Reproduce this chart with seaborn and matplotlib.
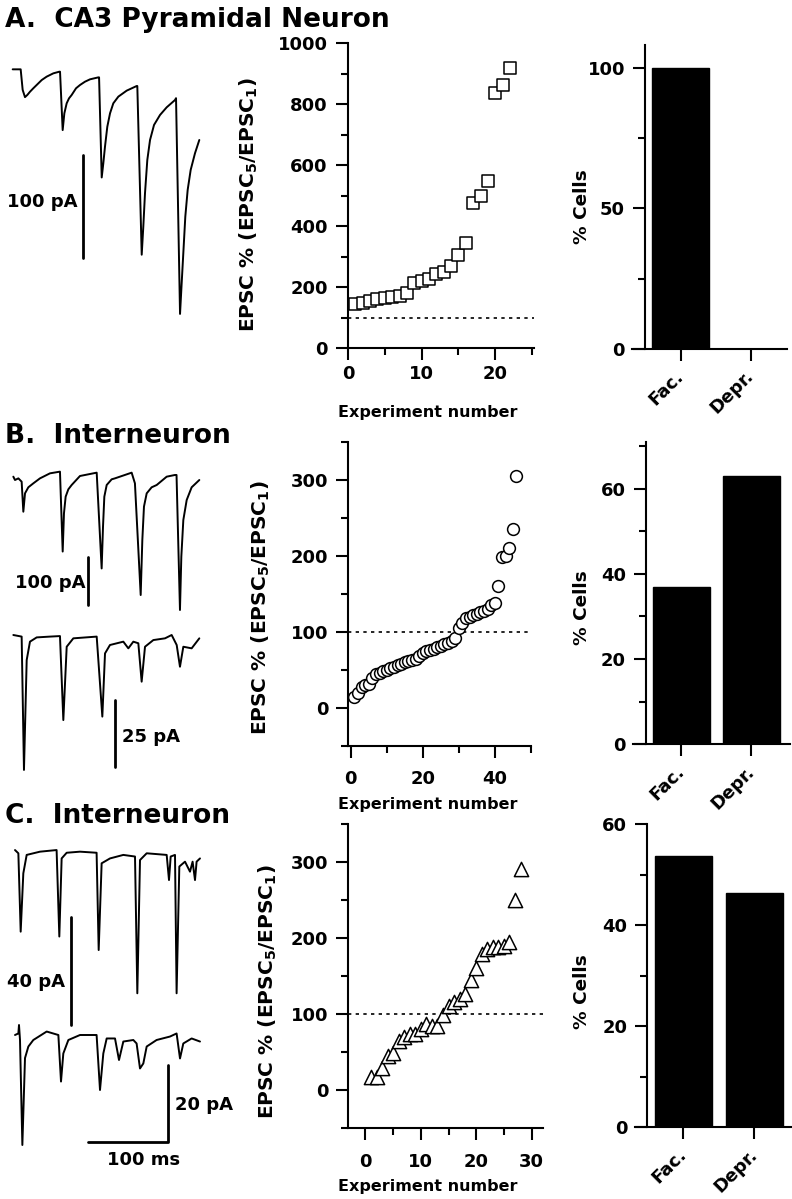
import matplotlib
matplotlib.use("Agg")
import matplotlib.pyplot as plt
from matplotlib.ticker import MultipleLocator
import seaborn as sns

# Figure size in pixels (dpi 100)
W, H = 792, 1199
MS_PER_PX = 1.25

# ---- scatter data (experiment number vs EPSC5/EPSC1 in %) ----
A_exp = list(range(1, 23))
A_epsc = [144, 146, 155, 161, 163, 168, 172, 181, 214, 220, 225,
          242, 248, 270, 305, 343, 476, 498, 548, 835, 862, 917]

B_exp = list(range(1, 47))
B_epsc = [15, 20, 28, 30, 32, 40, 44, 46, 48, 50, 52, 54, 56, 58, 60,
          62, 63, 65, 68, 72, 75, 76, 78, 80, 82, 84, 86, 88, 92,
          105, 112, 118, 120, 122, 124, 126, 128, 130, 135, 138,
          160, 198, 200, 210, 235, 305]

C_exp = list(range(1, 29))
C_epsc = [17, 17, 29, 44, 49, 64, 69, 73, 73, 80, 86, 84, 84, 98,
          110, 115, 119, 126, 144, 160, 179, 185, 188, 188, 189, 195, 250, 291]

# ---- bar data (% cells) ----
bar_cats = ["Fac.", "Depr."]
A_cells = [100, 0]
B_cells = [37.0, 63.0]
C_cells = [53.6, 46.4]

# ---- example traces (time in ms, current in pA) ----
A_t = [0, 10, 12.5, 15.4, 18.3, 21.7, 25.8, 30, 36.3, 42.5, 50.8, 58.3, 59.2, 62.5,
       64.6, 67.5, 70.4, 73.75, 79.2, 84.2, 90.4, 96.7, 107.1, 108, 111.3, 113.3,
       115.4, 118.3, 121.7, 125.8, 132.1, 142.5, 155, 155.8, 161.3, 163.3, 165.4,
       168.3, 171.7, 176.7, 184.2, 192.5, 202.9, 204.2, 209.2, 211.25, 213.3, 215.8,
       218.75, 222.5, 227.9, 233.3]
A_i = [0, 0, -20, -27, -24.9, -21.7, -18.4, -15.2, -10.4, -7.1, -3.9, -2.3, -2.3, -59,
       -42.7, -33, -28.2, -24.9, -18.4, -15.2, -12, -9.7, -7.8, -7.8, -105, -91.3,
       -75.1, -55.7, -42.7, -33, -26.5, -20.7, -16.2, -16.2, -180, -152.7, -120.4,
       -88, -68.6, -54, -44.3, -36.9, -29.8, -28, -237.5, -207.7, -178.6, -143,
       -117.1, -97.7, -81.5, -68.6]

B1_t = [0, 2.1, 6.3, 10.4, 12.5, 14.6, 18.75, 25, 33.3, 45.8, 58.3, 61.7, 63.3, 65.4,
        68.75, 72.9, 83.3, 104.2, 110.4, 112.1, 113.75, 116.7, 122.9, 127, 147.9, 152,
        159.2, 161.25, 163.3, 166.7, 172.9, 179.2, 191.7, 202, 204, 208.3, 210, 212.5,
        216.7, 222.9, 232.5]
B1_i = [0, -6.9, -3.5, -10.4, -72.5, -34.5, -22, -13.8, -3.5, 6.9, 10.4, -155, -75.9, -41.4,
        -26.2, -17.25, 1.4, 8.3, -190, -103.5, -41.4, -17.25, -5.5, -3.5, 8.3, -13.8,
        -245, -131, -62, -34.5, -22, -17.25, 0, 3.5, 3.5, -276, -165.6, -89.7,
        -48.3, -22, -6.9]

B2_t = [0, 10.4, 13.3, 16.7, 20.8, 29.2, 45.8, 58.3, 62.5, 66.7, 75, 104.2, 111.25,
        114.6, 120.8, 137.5, 143.75, 150, 156.25, 160.4, 164.6, 175, 189.6, 197.9,
        204.2, 208.3, 212.5, 222.9, 232.5]
B2_i = [0, -0.6, -50.6, -9.4, -2.5, -0.9, -0.6, -0.4, -31.9, -4.4, -1.25, -0.6, -30.6,
        -6.9, -3.75, -2.5, -5, -2.5, -3.1, -17.5, -4.4, -1.9, -1.25, 0,
        -3.75, -11.9, -4.4, -5, -1.25]

C1_t = [0, 4.2, 7.1, 10.4, 14.6, 31.25, 52, 55.4, 58.3, 64.6, 81.25, 102, 104.6, 108.3,
        118.75, 135.4, 150, 152.9, 156.25, 164.6, 189.6, 192.5, 194.6, 200, 202, 205.4,
        212.5, 218.75, 222, 225, 227, 231.25]
C1_i = [0.6, -0.6, -29.6, -8, -1.2, 0, 0.6, -31.4, -2.5, -0.4, 0, -0.4, -36.4, -4.3,
        -2.5, -1.2, -1.8, -52.4, -3.1, -0.6, -1.2, -10.5, -1.8, -1.2, -52.4, -5.5,
        -3.7, -7.4, -3.7, -10.5, -3.7, -2.5]

C2_t = [0, 4.2, 5, 6.25, 9.2, 12.5, 16.7, 22.9, 39.6, 54.2, 57.5, 60.4, 66.7, 81.25,
        102, 106.25, 110.4, 114.6, 125, 130, 135.4, 147.9, 152, 156.25, 160.4, 164.6,
        177, 193.75, 202, 206.25, 210.4, 220.8, 231.25]
C2_i = [0, 0.4, 2.6, -1.3, -28.6, -6, -3, -1.3, 0.9, 0, -12.1, -4.8, -1.3, 0,
        0, -14.3, -4.8, -0.9, -0.9, -6.5, -1.7, -1.3, -2.2, -8.7, -7.4, -3,
        -1.3, -0.4, 0.4, -6.1, -2.2, -0.9, -1.7]

sns.set_style("ticks")
plt.rcParams["font.family"] = ["DejaVu Sans"]
plt.rcParams["font.weight"] = "bold"
plt.rcParams["axes.labelweight"] = "bold"
plt.rcParams["mathtext.default"] = "bf"
for key in ["text.color", "axes.labelcolor", "xtick.color", "ytick.color", "axes.edgecolor"]:
    plt.rcParams[key] = "black"

TICK_FS = 13
LW = 1.5

fig = plt.figure(figsize=(W / 100, H / 100), dpi=100)


def px_rect(left, top, right, bottom):
    return [left / W, 1 - bottom / H, (right - left) / W, (bottom - top) / H]


def style(ax, xpad=4):
    for s in ["top", "right"]:
        ax.spines[s].set_visible(False)
    for s in ["left", "bottom"]:
        ax.spines[s].set_linewidth(LW)
    ax.tick_params(which="major", length=8.5, width=LW, direction="out",
                   labelsize=TICK_FS, pad=6)
    ax.tick_params(which="minor", length=5, width=LW, direction="out")
    ax.tick_params(axis="x", pad=xpad)
    ax.set_facecolor("none")


def fig_label(text, x_px, y_px, size=TICK_FS, **kw):
    fig.text(x_px / W, 1 - y_px / H, text, fontsize=size, fontweight="bold",
             ha="center", va="center", **kw)


def scatter_panel(rect, x, y, marker, size, xlim, ylim, xt, yt, xpad):
    ax = fig.add_axes(px_rect(*rect))
    ax.axhline(100, color="black", lw=1.2, ls=(0, (2, 2.6)), zorder=1)
    sns.scatterplot(x=x, y=y, marker=marker, s=size, color="white",
                    edgecolor="black", linewidth=1.1, clip_on=False, zorder=3, ax=ax)
    ax.set_xlim(*xlim)
    ax.set_ylim(*ylim)
    ax.xaxis.set_major_locator(MultipleLocator(xt[0]))
    ax.xaxis.set_minor_locator(MultipleLocator(xt[1]))
    ax.yaxis.set_major_locator(MultipleLocator(yt[0]))
    ax.yaxis.set_minor_locator(MultipleLocator(yt[1]))
    style(ax, xpad)
    return ax


def bar_panel(rect, vals, xlim, spine_x, ylim, yt):
    ax = fig.add_axes(px_rect(*rect))
    sns.barplot(x=bar_cats, y=vals, color="black", saturation=1, width=0.81,
                edgecolor="black", ax=ax)
    ax.set_xlim(*xlim)
    ax.set_ylim(*ylim)
    ax.spines["left"].set_position(("data", spine_x))
    ax.yaxis.set_major_locator(MultipleLocator(yt[0]))
    ax.yaxis.set_minor_locator(MultipleLocator(yt[1]))
    ax.set_xticks([0, 1])
    ax.set_xticklabels(bar_cats, rotation=45, ha="right", va="center",
                       rotation_mode="anchor")
    style(ax, xpad=9)
    return ax


def trace_axes(x0_px, y0_px, pa_per_px):
    ax = fig.add_axes([0, 0, 1, 1])
    ax.set_xlim(-x0_px * MS_PER_PX, (W - x0_px) * MS_PER_PX)
    ax.set_ylim(-(H - y0_px) * pa_per_px, y0_px * pa_per_px)
    ax.axis("off")
    return ax


def draw_trace(ax, t, i):
    sns.lineplot(x=t, y=i, sort=False, estimator=None, color="black", lw=1.4, ax=ax)


# ---------------- scatter panels ----------------
ylab = "EPSC % (EPSC$_5$/EPSC$_1$)"
scatter_panel((348, 43, 533.5, 348), A_exp, A_epsc, "s", 72,
              (0, 25.2), (0, 1000), (10, 5), (200, 100), 4)
scatter_panel((348.3, 441.7, 530.7, 746), B_exp, B_epsc, "o", 72,
              (-0.67, 50), (-50, 350), (20, 10), (100, 50), 8.5)
scatter_panel((348.3, 824, 542.7, 1127.7), C_exp, C_epsc, "^", 105,
              (-3.1, 32), (-50, 350), (10, 5), (100, 50), 10)

for x, y in [(249, 205), (261, 608), (268, 992)]:
    fig_label(ylab, x, y, size=14.5, rotation=90)
for y in [413, 805, 1186]:
    fig_label("Experiment number", 428, y, size=11.5)

# ---------------- bar panels ----------------
bar_panel((631.7, 45, 786.7, 349), A_cells, (-0.70, 1.51), -0.508, (0, 108), (50, 25))
bar_panel((632.7, 441.7, 790, 744.3), B_cells, (-0.694, 1.55), -0.506, (0, 71), (20, 10))
bar_panel((635, 824, 792, 1127.3), C_cells, (-0.68, 1.53), -0.505, (0, 60), (20, 10))

for y in [207, 608, 992]:
    fig_label("% Cells", 582, y, size=13.3, rotation=90)

# ---------------- titles ----------------
for txt, y in [("A.  CA3 Pyramidal Neuron", 27), ("B.  Interneuron", 443),
               ("C.  Interneuron", 823)]:
    fig.text(5 / W, 1 - y / H, txt, fontsize=19, fontweight="bold",
             ha="left", va="baseline")

# ---------------- traces + scale bars ----------------
ax = trace_axes(12.67, 69.33, 0.971)
draw_trace(ax, A_t, A_i)
ax.plot([88.3, 88.3], [-83.2, -183.2], color="black", lw=2)
ax.text(80.8, -128.5, "100 pA", fontsize=TICK_FS, fontweight="bold", ha="right", va="center")

ax = trace_axes(13.33, 476.67, 2.07)
draw_trace(ax, B1_t, B1_i)
ax.plot([93.75, 93.75], [-165.6, -265.6], color="black", lw=2)
ax.text(89.6, -220.8, "100 pA", fontsize=TICK_FS, fontweight="bold", ha="right", va="center")

ax = trace_axes(13.33, 635, 0.375)
draw_trace(ax, B2_t, B2_i)
ax.plot([127, 127], [-24.4, -49.4], color="black", lw=2)
ax.text(135.4, -38.1, "25 pA", fontsize=TICK_FS, fontweight="bold", ha="left", va="center")

ax = trace_axes(15, 851.67, 0.37)
draw_trace(ax, C1_t, C1_i)
ax.plot([69.6, 69.6], [-24, -64], color="black", lw=2)
ax.text(62.5, -48.1, "40 pA", fontsize=TICK_FS, fontweight="bold", ha="right", va="center")

ax = trace_axes(15, 1035, 0.26)
draw_trace(ax, C2_t, C2_i)
ax.plot([91.7, 191.7, 191.7], [-27.8, -27.8, -7.8], color="black", lw=2)
ax.text(200, -18.2, "20 pA", fontsize=TICK_FS, fontweight="bold", ha="left", va="center")
ax.text(161, -32.5, "100 ms", fontsize=TICK_FS, fontweight="bold", ha="center", va="center")

fig.savefig("out.png", dpi=100)
